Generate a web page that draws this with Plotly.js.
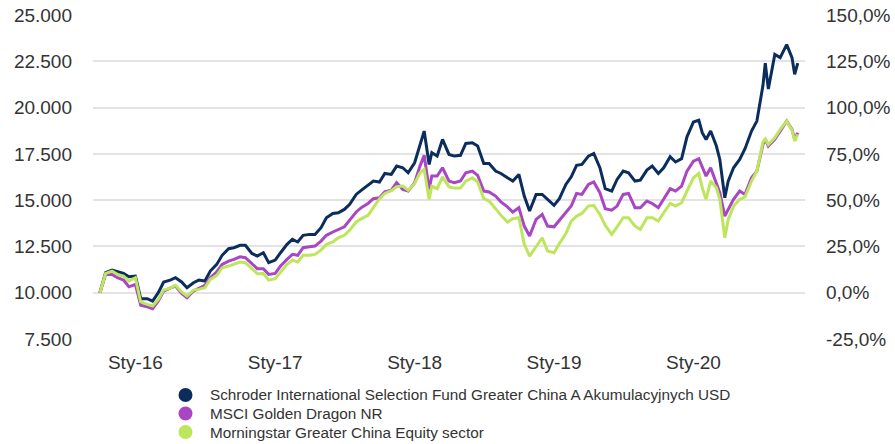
<!DOCTYPE html>
<html>
<head>
<meta charset="utf-8">
<script src="https://cdn.plot.ly/plotly-3.0.1.min.js"></script>
<style>
  html, body { margin: 0; padding: 0; background: #ffffff; }
  #chart { width: 895px; height: 444px; }
</style>
</head>
<body>
<div id="chart"></div>
<script>
const dates = [
  '2015-09-30','2015-10-15','2015-11-01','2015-11-15','2015-12-01','2015-12-15',
  '2016-01-01','2016-01-15','2016-02-01','2016-02-15','2016-03-01','2016-03-15',
  '2016-04-01','2016-04-15','2016-05-01','2016-05-15','2016-06-01','2016-06-15',
  '2016-07-01','2016-07-15','2016-08-01','2016-08-15','2016-09-01','2016-09-15',
  '2016-10-01','2016-10-15','2016-11-01','2016-11-15','2016-12-01','2016-12-15',
  '2017-01-01','2017-01-15','2017-02-01','2017-02-15','2017-03-01','2017-03-15',
  '2017-04-01','2017-04-15','2017-05-01','2017-05-15','2017-06-01','2017-06-15',
  '2017-07-01','2017-07-15','2017-08-01','2017-08-15','2017-09-01','2017-09-15',
  '2017-10-01','2017-10-15','2017-11-01','2017-11-15','2017-12-01','2017-12-15',
  '2018-01-01','2018-01-15','2018-01-26','2018-02-08','2018-02-15','2018-03-01',
  '2018-03-15','2018-04-01','2018-04-15','2018-05-01','2018-05-15','2018-06-01',
  '2018-06-15','2018-07-01','2018-07-15','2018-08-01','2018-08-15','2018-09-01',
  '2018-09-15','2018-10-01','2018-10-15','2018-10-29','2018-11-15','2018-12-01',
  '2018-12-15','2019-01-01','2019-01-15','2019-02-01','2019-02-15','2019-03-01',
  '2019-03-15','2019-04-01','2019-04-15','2019-05-01','2019-05-15','2019-06-01',
  '2019-06-15','2019-07-01','2019-07-15','2019-08-01','2019-08-15','2019-09-01',
  '2019-09-15','2019-10-01','2019-10-15','2019-11-01','2019-11-15','2019-12-01',
  '2019-12-15','2020-01-01','2020-01-15','2020-01-24','2020-02-03','2020-02-15',
  '2020-03-01','2020-03-10','2020-03-23','2020-04-01','2020-04-15','2020-05-01',
  '2020-05-15','2020-06-01','2020-06-15','2020-07-01','2020-07-07','2020-07-15',
  '2020-08-01','2020-08-15','2020-09-01','2020-09-15','2020-09-22','2020-09-30'
];

const fundValues = [
  10000,11080,11220,11120,11040,10860,
  10900,9680,9680,9550,10000,10580,
  10680,10810,10580,10270,10540,10680,
  10630,11170,11530,12020,12380,12430,
  12560,12560,12120,11980,12160,11620,
  11760,12160,12610,12880,12740,13100,
  13150,13150,13510,14050,14280,14320,
  14500,14770,15310,15540,15830,16030,
  15980,16440,16390,16840,16750,16480,
  17020,17920,18730,16930,17560,17380,
  18280,17470,17380,17420,18060,18100,
  17920,16980,16980,16570,16440,16210,
  16030,16390,15220,14410,15310,15310,
  15040,14720,15080,15850,16260,16880,
  16930,17380,17520,16750,15620,15490,
  16120,16570,16480,16030,16080,16620,
  16840,16440,16750,17350,17060,17240,
  18420,19220,19320,18640,18280,18730,
  17920,17200,15130,16030,16750,17200,
  17780,18730,19270,21200,22400,21000,
  22870,22700,23400,22690,21800,22400
];

const msciValues = [
  10000,10990,10990,10810,10680,10320,
  10450,9320,9240,9140,9550,10090,
  10250,10360,9960,9730,10090,10220,
  10400,10810,11120,11530,11710,11800,
  11940,11890,11570,11300,11300,10990,
  11040,11440,11800,12070,12020,12430,
  12480,12520,12790,13100,13280,13420,
  13560,13920,14360,14610,14820,15080,
  15130,15450,15540,15940,15580,15490,
  15940,16840,17420,15580,16300,16300,
  16750,16030,15940,16030,16480,16570,
  16340,15490,15440,15220,14900,14640,
  14360,14590,13600,13060,13960,14230,
  13600,13560,13920,14320,14680,15360,
  15310,15850,15980,15400,14540,14460,
  14680,15310,15360,14590,14590,14950,
  14820,14590,15040,15620,15490,15760,
  16570,17110,17240,16750,16300,16750,
  15940,15400,14140,14500,15040,15490,
  15310,16210,16570,18010,18300,17920,
  18280,18730,19270,18820,18280,18640
];

const sectorValues = [
  10000,11040,11170,10990,10900,10630,
  10810,9500,9370,9280,9640,10140,
  10250,10400,10040,9820,10140,10180,
  10270,10720,10940,11350,11440,11530,
  11660,11620,11300,11030,11040,10680,
  10760,11120,11530,11760,11660,12020,
  12020,12070,12300,12610,12740,12970,
  13100,13380,13820,14000,14180,14590,
  15080,15360,15510,15720,15760,15530,
  15900,16480,16660,15040,15760,15620,
  16260,15720,15650,15650,16030,16210,
  15980,15080,14950,14540,14180,13820,
  14000,14050,12610,11980,12520,12970,
  12250,12160,12660,13200,13870,14140,
  14280,14680,14720,14230,13640,13150,
  13560,14050,14050,13600,13420,14050,
  14050,13870,14320,14820,14680,14860,
  15490,16210,16440,15670,15040,16030,
  15670,15040,12970,13960,14680,15040,
  15180,16030,16570,18140,18300,18010,
  18370,18820,19270,18780,18190,18550
];

const seriesNames = [
  'Schroder International Selection Fund Greater China A Akumulacyjnych USD',
  'MSCI Golden Dragon NR',
  'Morningstar Greater China Equity sector'
];
const seriesColors = ['#0b2d5e', '#a846c4', '#bde65c'];

const xTickVals = ['2016-01-01','2017-01-01','2018-01-01','2019-01-01','2020-01-01'];
const xTickText = ['Sty-16','Sty-17','Sty-18','Sty-19','Sty-20'];
const leftTickVals = [7500,10000,12500,15000,17500,20000,22500,25000];
const rightTickVals = [-25,0,25,50,75,100,125,150];
const rightTickText = ['-25,0%','0,0%','25,0%','50,0%','75,0%','100,0%','125,0%','150,0%'];

const allValues = [fundValues, msciValues, sectorValues];
const traces = [];
allValues.forEach((vals, i) => {
  traces.push({
    x: dates, y: vals, type: 'scatter', mode: 'lines',
    line: {color: seriesColors[i], width: 3},
    showlegend: false, hoverinfo: 'skip'
  });
});
// invisible trace so the right-hand percentage axis is drawn
traces.push({x: [null], y: [null], type: 'scatter', mode: 'lines', yaxis: 'y2',
             showlegend: false, hoverinfo: 'skip'});

// legend drawn below the plot (paper coordinates; plot area spans 93..805 x 15..339 px)
const plotL = 93, plotW = 712, plotB = 339, plotH = 324;
const px2x = px => (px - plotL) / plotW;
const py2y = py => (plotB - py) / plotH;
const legendRowsY = [395, 413.5, 432];
const legendDotX = 185.5, legendTextX = 208, dotR = 7;
const shapes = [], annotations = [];
seriesNames.forEach((name, i) => {
  const cy = legendRowsY[i];
  shapes.push({
    type: 'circle', xref: 'paper', yref: 'paper',
    x0: px2x(legendDotX - dotR), x1: px2x(legendDotX + dotR),
    y0: py2y(cy + dotR), y1: py2y(cy - dotR),
    fillcolor: seriesColors[i], line: {width: 0}
  });
  annotations.push({
    text: name, xref: 'paper', yref: 'paper',
    x: px2x(legendTextX), y: py2y(cy), xanchor: 'left', yanchor: 'middle',
    showarrow: false, font: {family: '"Liberation Sans", Arial, sans-serif', size: 15.3, color: '#333333'}
  });
});

const font = '"Liberation Sans", Arial, sans-serif';
const layout = {
  width: 895, height: 444,
  margin: {l: 93, r: 90, t: 15, b: 105},
  paper_bgcolor: '#ffffff', plot_bgcolor: '#ffffff',
  separators: ',.',
  font: {family: font, size: 19, color: '#333333'},
  showlegend: false,
  shapes: shapes, annotations: annotations,
  xaxis: {
    type: 'date', range: ['2015-09-12', '2020-10-19'],
    tickmode: 'array', tickvals: xTickVals, ticktext: xTickText,
    showgrid: false, zeroline: false, showline: false, ticks: '', ticklabelstandoff: 10,
    tickfont: {family: font, size: 19, color: '#333333'}
  },
  yaxis: {
    range: [7500, 25000], tickmode: 'array', tickvals: leftTickVals,
    tickformat: ',d', showgrid: true, gridcolor: '#e3e3e3', gridwidth: 2,
    zeroline: false, showline: false, ticks: '', ticklabelstandoff: 20,
    tickfont: {family: font, size: 19, color: '#333333'}
  },
  yaxis2: {
    overlaying: 'y', side: 'right', range: [-25, 150],
    tickmode: 'array', tickvals: rightTickVals, ticktext: rightTickText,
    showgrid: false, zeroline: false, showline: false, ticks: '', ticklabelstandoff: 20,
    tickfont: {family: font, size: 19, color: '#333333'}
  }
};

Plotly.newPlot('chart', traces, layout, {staticPlot: true, displayModeBar: false});
</script>
</body>
</html>
